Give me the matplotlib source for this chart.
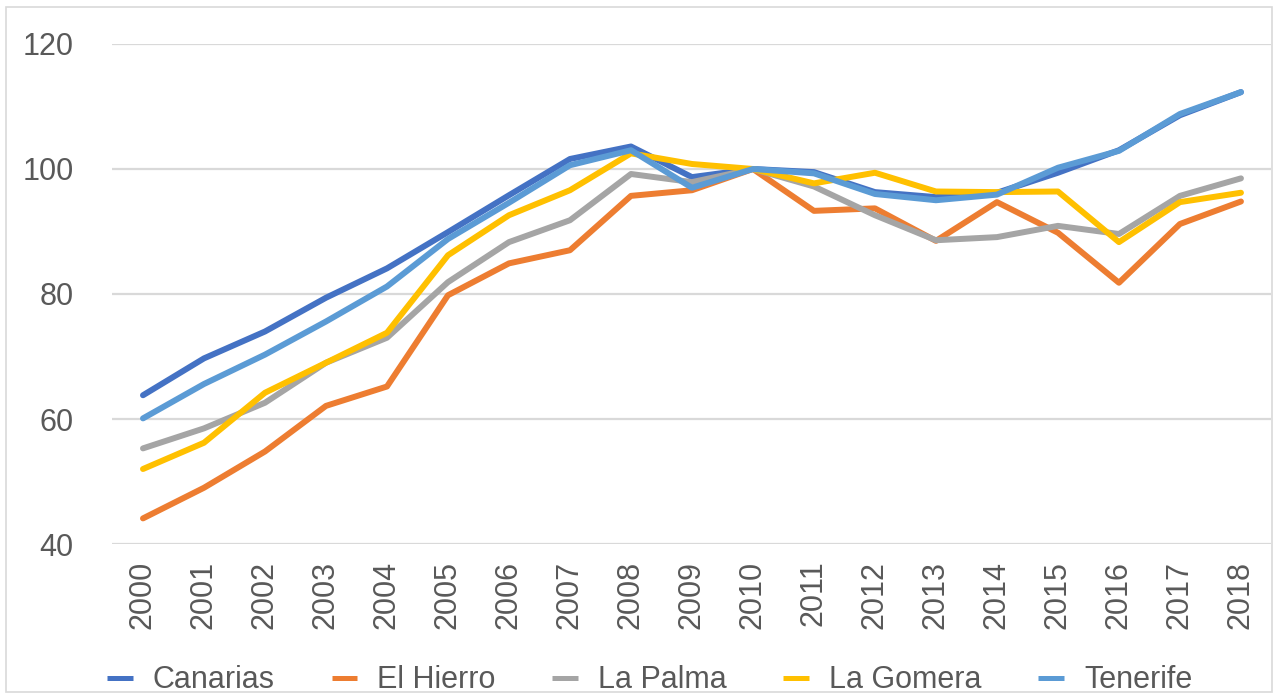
import matplotlib.pyplot as plt
import matplotlib.patches as patches

years = [str(y) for y in range(2000, 2019)]

canarias = [63.8, 69.7, 74.0, 79.4, 84.1, 89.9, 95.8, 101.6, 103.6, 98.7, 100,
            99.5, 96.3, 95.5, 96.2, 99.4, 103.0, 108.6, 112.3]
el_hierro = [44.1, 49.0, 54.8, 62.1, 65.2, 79.8, 84.9, 87.0, 95.7, 96.6, 100,
             93.3, 93.7, 88.5, 94.7, 89.8, 81.8, 91.2, 94.8]
la_palma = [55.3, 58.5, 62.6, 69.0, 73.0, 81.9, 88.3, 91.8, 99.2, 97.9, 100,
            97.2, 92.6, 88.6, 89.1, 90.9, 89.6, 95.7, 98.5]
la_gomera = [52.0, 56.2, 64.2, 69.0, 73.8, 86.2, 92.6, 96.6, 102.5, 100.8, 100,
             97.7, 99.4, 96.4, 96.3, 96.4, 88.3, 94.7, 96.2]
tenerife = [60.1, 65.6, 70.3, 75.6, 81.2, 88.8, 94.6, 100.6, 103.0, 97.0, 100,
            99.3, 96.0, 95.0, 95.9, 100.2, 102.9, 108.8, 112.3]

series = [
    ("Canarias", canarias, "#4472C4"),
    ("El Hierro", el_hierro, "#ED7D31"),
    ("La Palma", la_palma, "#A5A5A5"),
    ("La Gomera", la_gomera, "#FFC000"),
    ("Tenerife", tenerife, "#5B9BD5"),
]

plt.rcParams['font.family'] = ['Liberation Sans', 'DejaVu Sans']
text_color = "#595959"

fig = plt.figure(figsize=(12.74, 6.97), dpi=100)
ax = fig.add_axes([0.0883, 0.2195, 0.9097, 0.7174])

x = list(range(len(years)))
for name, vals, col in series:
    ax.plot(x, vals, color=col, lw=4.3, label=name, solid_capstyle='round')

ax.set_xlim(-0.5, len(years) - 0.5)
ax.set_ylim(40, 120)
ax.set_yticks([40, 60, 80, 100, 120])
ax.set_xticks(x)
ax.set_xticklabels(years, rotation=90)
ax.tick_params(length=0, labelsize=22, labelcolor=text_color)
ax.tick_params(axis='y', pad=28)
ax.tick_params(axis='x', pad=12)
ax.grid(axis='y', color="#D9D9D9", lw=1.6)
ax.set_axisbelow(True)
for s in ax.spines.values():
    s.set_visible(False)

leg = fig.legend(loc='center', bbox_to_anchor=(0.51, 0.024), ncol=5, frameon=False,
                 fontsize=22, handlelength=0.85, handletextpad=0.65, columnspacing=1.85)
for t in leg.get_texts():
    t.set_color(text_color)
for h in leg.get_lines():
    h.set_linewidth(3.6)
    h.set_solid_capstyle('butt')

fig.patches.append(patches.Rectangle((6 / 1274, 5 / 697), 1266 / 1274, 685 / 697,
                                     transform=fig.transFigure, fill=False,
                                     edgecolor="#D9D9D9", lw=1.2))

fig.savefig("out.png", dpi=100)
